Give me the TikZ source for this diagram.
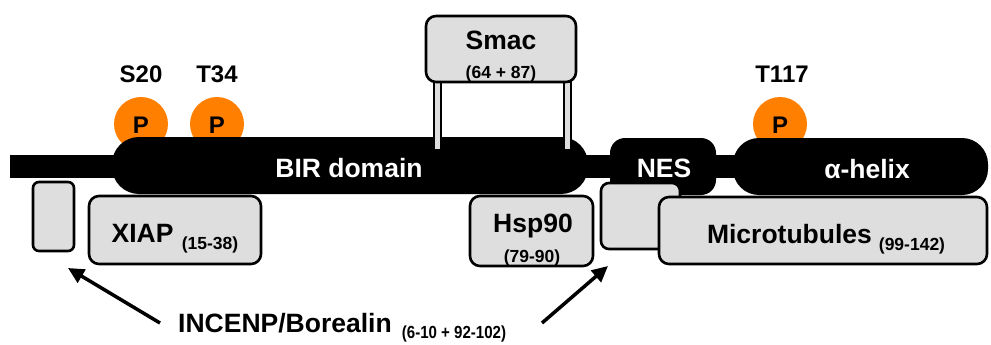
\documentclass[tikz,border=0pt]{standalone}
\usepackage{fontspec}
\setmainfont{Liberation Sans}
\usetikzlibrary{arrows.meta}
\definecolor{boxgray}{RGB}{222,222,222}
\definecolor{porange}{RGB}{255,128,0}
\begin{document}
\begin{tikzpicture}[x=1pt,y=-1pt,
  bind/.style={draw=black,line width=2.6pt,fill=boxgray,rounded corners=#1,inner sep=0pt},
  bind/.default=10pt,
  seg/.style={fill=black,draw=none,inner sep=0pt,rounded corners=#1},
  pcirc/.style={circle,fill=porange,draw=none,minimum size=54pt,inner sep=0pt},
  pillar/.style={draw=black,line width=2pt,fill=boxgray,inner sep=0pt,minimum width=7pt,minimum height=68pt},
  big/.style={font=\fontsize{26.5}{28}\selectfont\bfseries,inner sep=0pt,anchor=base},
  site/.style={font=\fontsize{24}{26}\selectfont\bfseries,inner sep=0pt,anchor=base},
  small/.style={font=\fontsize{17.5}{19}\selectfont\bfseries,inner sep=0pt,anchor=base},
  wlab/.style={big,text=white},
  arr/.style={line width=3.5pt,-{Triangle[length=16pt,width=15pt]}}]
\useasboundingbox (0,0) rectangle (991,345);
% phosphorylation sites (behind backbone)
\node[pcirc] (p20) at (141,124) {};
\node[pcirc] (p34) at (217,124) {};
\node[pcirc] (p117) at (780,124) {};
\node[site] (ps20) at (141,133) {P};
\node[site] (ps34) at (217,133) {P};
\node[site] (ps117) at (780,133) {P};
\node[site] (s20) at (141,82) {S20};
\node[site] (t34) at (217,82) {T34};
\node[site] (t117) at (782,82) {T117};
% backbone
\node[seg=0pt,minimum width=965pt,minimum height=23pt] (bar) at (492.5,166.5) {};
\node[seg=27pt,minimum width=476pt,minimum height=57pt] (bir) at (350,165.5) {};
\node[seg=15pt,minimum width=106pt,minimum height=57pt] (nes) at (663,166.5) {};
\node[seg=26pt,minimum width=255pt,minimum height=57pt] (helix) at (860.5,166.5) {};
\node[wlab] (birl) at (349,177) {BIR domain};
\node[wlab] (nesl) at (664,177) {NES};
\node[wlab] (helixl) at (867,178) {α-helix};
% Smac
\node[pillar] (pl) at (437.5,116) {};
\node[pillar] (pr) at (567.5,116) {};
\node[bind,minimum width=150pt,minimum height=66pt] (smac) at (501,49) {};
\node[big] (smacl) at (501,50) {Smac};
\node[small] (smacn) at (501,79) {(64 + 87)};
% binding partners
\node[bind=6pt,minimum width=41pt,minimum height=69pt] (lbox) at (53.5,216.5) {};
\node[bind,minimum width=172pt,minimum height=68pt] (xiap) at (175,230) {};
\node[big] (xiapl) at (142.5,242) {XIAP};
\node[small] (xiapn) at (210,249) {(15-38)};
\node[bind,minimum width=123pt,minimum height=70pt] (hsp) at (531.5,231) {};
\node[big] (hspl) at (533,232) {Hsp90};
\node[small] (hspn) at (532,262) {(79-90)};
\node[bind=8pt,minimum width=79pt,minimum height=66pt] (rbox) at (640.5,216) {};
\node[bind,minimum width=328pt,minimum height=67pt] (micro) at (823,230.5) {};
\node[big] (microl) at (789.5,243) {Microtubules};
\node[small] (micron) at (912,250) {(99-142)};
% INCENP/Borealin
\node[big] (inc) at (285,332) {INCENP/Borealin};
\node[small] (incn) at (454,338) {\scalebox{0.86}[1]{(6-10 + 92-102)}};
\coordinate (a1s) at (160,323);
\coordinate (a1e) at (68,268);
\coordinate (a2s) at (542,323);
\coordinate (a2e) at (608,266);
\draw[arr] (a1s) -- (a1e);
\draw[arr] (a2s) -- (a2e);
\end{tikzpicture}
\end{document}
